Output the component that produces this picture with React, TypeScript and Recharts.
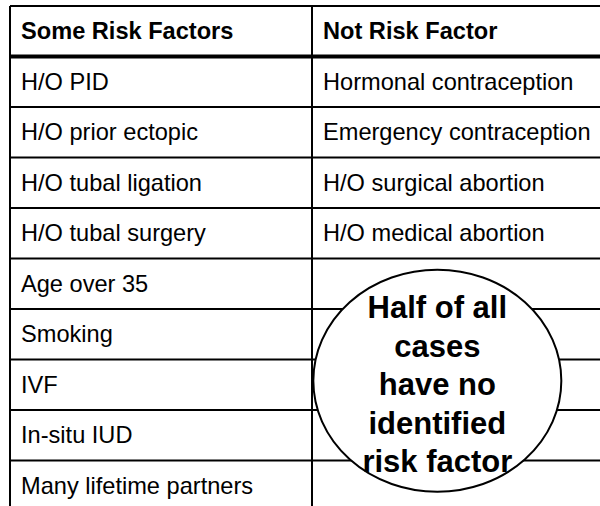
import { ScatterChart, Scatter, XAxis, YAxis, ReferenceLine } from "recharts";

const headers: string[] = ["Some Risk Factors", "Not Risk Factor"];

const riskFactors: string[] = [
  "H/O PID",
  "H/O prior ectopic",
  "H/O tubal ligation",
  "H/O tubal surgery",
  "Age over 35",
  "Smoking",
  "IVF",
  "In-situ IUD",
  "Many lifetime partners",
];

const notRiskFactors: string[] = [
  "Hormonal contraception",
  "Emergency contraception",
  "H/O surgical abortion",
  "H/O medical abortion",
];

const noteLines: string[] = ["Half of all", "cases", "have no", "identified", "risk factor"];

// column 0 = left, column 1 = right; row 0 = header
const cells = [
  ...headers.map((text, i) => ({ x: i, y: 0.5, text, bold: true })),
  ...riskFactors.map((text, i) => ({ x: 0, y: i + 1.5, text, bold: false })),
  ...notRiskFactors.map((text, i) => ({ x: 1, y: i + 1.5, text, bold: false })),
];

const rowLines: number[] = [0, 1, 2, 3, 4, 5, 6, 7, 8, 9];
const colLines: number[] = [0, 1];

const note = [{ x: 1.415, y: 7.42 }];

const FONT = "Arial, 'Liberation Sans', Helvetica, sans-serif";

const CellText = (props: any) => {
  const { cx, cy, payload } = props;
  return (
    <text
      x={cx + 11}
      y={cy}
      dominantBaseline="central"
      fontFamily={FONT}
      fontSize={23.6}
      fontWeight={payload.bold ? "bold" : "normal"}
      fill="#000"
    >
      {payload.text}
    </text>
  );
};

const NoteBubble = (props: any) => {
  const { cx, cy } = props;
  const gap = 38.5;
  const start = cy + 4 - (gap * (noteLines.length - 1)) / 2;
  return (
    <g>
      <ellipse cx={cx} cy={cy} rx={124} ry={111} fill="#fff" stroke="#000" strokeWidth={2} />
      {noteLines.map((t, i) => (
        <text
          key={t}
          x={cx}
          y={start + i * gap}
          textAnchor="middle"
          dominantBaseline="central"
          fontFamily={FONT}
          fontSize={31}
          fontWeight="bold"
          fill="#000"
        >
          {t}
        </text>
      ))}
    </g>
  );
};

const App = () => (
  <div style={{ position: "absolute", left: 0, top: 0, background: "#fff" }}>
    <ScatterChart width={600} height={506} margin={{ top: 6, right: 0, bottom: 0, left: 10 }}>
      <XAxis type="number" dataKey="x" domain={[0, 590 / 302]} hide />
      <YAxis type="number" dataKey="y" domain={[0, 9.9]} reversed hide />
      {rowLines.map((r) => (
        <ReferenceLine key={`r${r}`} y={r} stroke="#000" strokeWidth={r === 1 ? 4 : 2} />
      ))}
      {colLines.map((c) => (
        <ReferenceLine key={`c${c}`} x={c} stroke="#000" strokeWidth={2} />
      ))}
      <Scatter data={cells} shape={CellText} isAnimationActive={false} />
      <Scatter data={note} shape={NoteBubble} isAnimationActive={false} />
    </ScatterChart>
  </div>
);

export default App;
